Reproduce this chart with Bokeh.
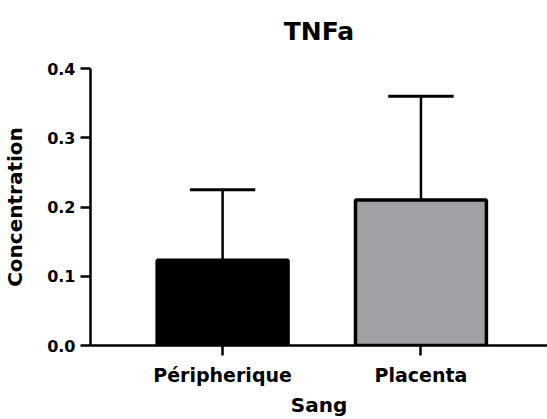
from bokeh.plotting import figure
from bokeh.models import ColumnDataSource, FixedTicker, Range1d, NumeralTickFormatter, Title
from bokeh.embed import file_html
from bokeh.resources import INLINE

title = "TNFa"
categories = ["Péripherique", "Placenta"]
means = [0.123, 0.210]
sds = [0.102, 0.150]
colors = ["#000000", "#A1A0A5"]
y_ticks = [0.0, 0.1, 0.2, 0.3, 0.4]

xs = [i + 1 for i in range(len(categories))]
tops = [m + s for m, s in zip(means, sds)]
src = ColumnDataSource(dict(x=xs, top=means, err=tops, color=colors,
                            cl=[x - 0.165 for x in xs], cr=[x + 0.165 for x in xs]))

FONT = "DejaVu Sans"

p = figure(width=547, height=419, output_backend="svg", toolbar_location=None,
           x_range=Range1d(0.334, 2.638), y_range=Range1d(0, 0.4),
           min_border_left=88, min_border_right=0, min_border_top=68, min_border_bottom=72,
           title=title)
p.title.text_font = FONT
p.title.text_font_size = "25px"
p.title.text_font_style = "bold"
p.title.align = "center"
p.title.text_color = "#000000"
p.title.standoff = 0
# spacer between the title and the plot area
p.add_layout(Title(text=" ", text_font_size="14px", standoff=5), "above")

p.vbar(x="x", top="top", bottom=0, width=0.66, source=src, fill_color="color",
       line_color="#000000", line_width=3.5)
p.segment(x0="x", y0="top", x1="x", y1="err", source=src, line_color="#000000", line_width=2.5)
p.segment(x0="cl", y0="err", x1="cr", y1="err", source=src, line_color="#000000", line_width=3)

p.grid.visible = False
p.outline_line_color = None
p.background_fill_color = "white"
p.border_fill_color = "white"

for ax in (p.xaxis[0], p.yaxis[0]):
    ax.axis_line_width = 2.5
    ax.axis_line_color = "#000000"
    ax.major_tick_line_width = 2.5
    ax.major_tick_line_color = "#000000"
    ax.major_tick_out = 10
    ax.major_tick_in = 0
    ax.minor_tick_line_color = None
    ax.major_label_text_font = FONT
    ax.major_label_text_font_style = "bold"
    ax.major_label_text_color = "#000000"
    ax.axis_label_text_font = FONT
    ax.axis_label_text_font_style = "bold"
    ax.axis_label_text_color = "#000000"
    ax.axis_label_text_font_size = "20px"

p.yaxis.ticker = FixedTicker(ticks=y_ticks)
p.yaxis.formatter = NumeralTickFormatter(format="0.0")
p.yaxis.major_label_text_font_size = "16px"
p.yaxis.major_label_standoff = 5
p.yaxis.axis_label = "Concentration"
p.yaxis.axis_label_standoff = 17

p.xaxis.ticker = FixedTicker(ticks=xs)
p.xaxis.major_label_overrides = {x: c for x, c in zip(xs, categories)}
p.xaxis.major_label_text_font_size = "19px"
p.xaxis.major_label_standoff = 8
p.xaxis.axis_label = "Sang"
p.xaxis.axis_label_standoff = 4

open("out.html", "w").write(file_html(p, INLINE))
